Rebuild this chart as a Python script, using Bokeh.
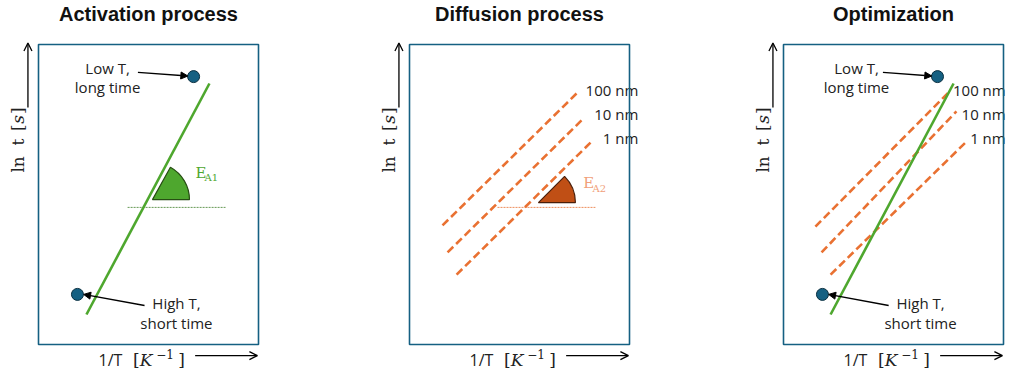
import numpy as np
from bokeh.plotting import figure
from bokeh.layouts import row
from bokeh.models import Range1d, Arrow, NormalHead, OpenHead
from bokeh.core.properties import value
from bokeh.embed import file_html
from bokeh.resources import INLINE

# ---------------- data (schematic units: x = 1/T, y = ln t, box = 0..10) -------------
titles = ["Activation process", "Diffusion process", "Optimization"]
sizes = ["100 nm", "10 nm", "1 nm"]
pt_labels = [["Low T,", "long time"], ["High T,", "short time"]]

act_x = [2.18, 7.77]
act_y = [1.00, 8.70]
act_pts_x = [7.05, 1.77]
act_pts_y = [8.93, 1.67]

diff_x0 = [1.50, 1.73, 2.14]
diff_y0 = [3.97, 3.07, 2.33]
diff_x1 = [7.64, 7.86, 8.23]
diff_y1 = [8.40, 7.50, 6.73]

opt_act_x = [2.14, 7.73]
opt_act_y = [1.00, 8.70]
opt_pts_x = [7.00, 1.77]
opt_pts_y = [8.93, 1.67]
opt_x0 = [1.45, 1.73, 2.14]
opt_y0 = [3.93, 3.07, 2.33]
opt_x1 = [7.50, 7.86, 8.27]
opt_y1 = [8.40, 7.77, 6.73]

ea1_angle = 61
ea2_angle = 45

# ---------------- style ----------------
GREEN = "#4EA72E"
ORANGE = "#E97132"
BLUE = "#156082"
INK = "#222222"
SANS = value("Open Sans")
SERIF = value("DejaVu Serif")
TITLE_FONT = value("Liberation Sans")

H = 371
BOX_TOP, BOX_BOTTOM = 44, 344
XS, YS = 22.0, 30.0


def txt(p, x, y, s, font=SANS, size="15px", color=INK, align="left", style="normal", angle=0.0):
    p.text(x=[x], y=[y], text=[s], text_align=align, text_baseline="middle", angle=angle,
           text_font=font, text_font_size=size, text_color=color, text_font_style=style)


def make_fig(L, W, bl, title):
    p = figure(width=W, height=H, output_backend="svg", toolbar_location=None,
               x_range=Range1d((L - bl) / XS, (L + W - bl) / XS),
               y_range=Range1d((BOX_BOTTOM - H) / YS, BOX_BOTTOM / YS),
               min_border=0, title=None, x_axis_location=None, y_axis_location=None)
    p.grid.visible = False
    p.outline_line_color = None
    p.background_fill_color = "white"
    p.border_fill_color = "white"
    # title
    txt(p, 5, 11.03, title, font=TITLE_FONT, size="20px", color="#111111",
        align="center", style="bold")
    # y label: ln t  [s]
    a = np.pi / 2
    txt(p, -0.93, 5.73, "ln", font=SERIF, size="17px", angle=a)
    txt(p, -0.93, 6.63, "t", font=SERIF, size="17px", angle=a)
    txt(p, -0.93, 7.12, "[", font=SERIF, size="17px", angle=a)
    txt(p, -0.93, 7.36, "s", font=SERIF, size="17px", style="italic", angle=a)
    txt(p, -0.93, 7.68, "]", font=SERIF, size="17px", angle=a)
    p.add_layout(Arrow(end=OpenHead(size=8, line_width=1.3, line_color="black"),
                       x_start=-0.48, y_start=7.9, x_end=-0.48, y_end=10.05,
                       line_width=1.3, line_color="black"))
    # x label: 1/T  [K^-1]
    ly = -0.5
    txt(p, 2.73, ly, "1/T", size="16px")
    txt(p, 4.3, ly, "[", font=SERIF, size="17px")
    txt(p, 4.6, ly, "K", font=SERIF, size="17px", style="italic")
    txt(p, 5.35, ly + 0.2, "\u22121", font=SERIF, size="12px")
    txt(p, 6.35, ly, "]", font=SERIF, size="17px")
    p.add_layout(Arrow(end=OpenHead(size=8, line_width=1.3, line_color="black"),
                       x_start=7.12, y_start=-0.37, x_end=9.95, y_end=-0.37,
                       line_width=1.3, line_color="black"))
    return p


def add_box(p):
    p.quad(left=[0], right=[10], bottom=[0], top=[10], fill_color=None,
           line_color=BLUE, line_width=1.6)


def add_points(p, px, py, low_cx, high_cx):
    p.scatter(px, py, size=12, fill_color=BLUE, line_color="#0B3041", line_width=1)
    head = NormalHead(size=7, fill_color="black", line_color="black")
    p.add_layout(Arrow(end=head, x_start=4.52, y_start=9.07, x_end=px[0] - 0.26, y_end=py[0] + 0.02,
                       line_width=1.3, line_color="black"))
    head2 = NormalHead(size=7, fill_color="black", line_color="black")
    p.add_layout(Arrow(end=head2, x_start=high_cx - 1.45, y_start=1.3, x_end=px[1] + 0.28,
                       y_end=py[1], line_width=1.3, line_color="black"))
    p.text(x=[low_cx, low_cx], y=[9.23, 8.57], text=pt_labels[0], text_align="center",
           text_baseline="middle", text_font=SANS, text_font_size="15px", text_color=INK)
    p.text(x=[high_cx, high_cx], y=[1.38, 0.72], text=pt_labels[1], text_align="center",
           text_baseline="middle", text_font=SANS, text_font_size="15px", text_color=INK)


def add_dashed(p, x0, y0, x1, y1, label_right, label_y):
    p.segment(x0=x0, y0=y0, x1=x1, y1=y1, line_color=ORANGE, line_width=2.6, line_dash="8 4")
    p.text(x=[label_right] * 3, y=label_y, text=sizes, text_align="right", text_baseline="middle",
           text_font=SANS, text_font_size="15px", text_color=INK)


# ---------------- panel 1 ----------------
p1 = make_fig(0, 348, 38, titles[0])
p1.segment(x0=[4.05], y0=[4.57], x1=[8.5], y1=[4.57], line_color="#3F7F2A",
           line_width=0.8, line_dash="2 1")
p1.line(act_x, act_y, line_color=GREEN, line_width=2.6)
p1.wedge(x=[5.18], y=[4.83], radius=37, radius_units="screen", start_angle=0,
         end_angle=np.radians(ea1_angle), fill_color=GREEN, line_color="#274E13", line_width=1.2)
txt(p1, 7.14, 5.73, "E", font=SERIF, size="15px", color=GREEN)
txt(p1, 7.55, 5.57, "A1", font=SERIF, size="10px", color=GREEN)
add_points(p1, act_pts_x, act_pts_y, 3.14, 6.27)
add_box(p1)

# ---------------- panel 2 ----------------
p2 = make_fig(348, 345, 409, titles[1])
p2.segment(x0=[4.0], y0=[4.57], x1=[8.45], y1=[4.57], line_color=ORANGE,
           line_width=0.8, line_dash="2 1")
add_dashed(p2, diff_x0, diff_y0, diff_x1, diff_y1, 10.4, [8.5, 7.67, 6.9])
p2.wedge(x=[5.86], y=[4.73], radius=37, radius_units="screen", start_angle=0,
         end_angle=np.radians(ea2_angle), fill_color="#C04F15", line_color="#4A1F0A", line_width=1.2)
txt(p2, 7.9, 5.37, "E", font=SERIF, size="15px", color="#F1A07A")
txt(p2, 8.32, 5.21, "A2", font=SERIF, size="10px", color="#F1A07A")
add_box(p2)

# ---------------- panel 3 ----------------
p3 = make_fig(693, 315, 783, titles[2])
add_dashed(p3, opt_x0, opt_y0, opt_x1, opt_y1, 10.1, [8.47, 7.67, 6.9])
p3.line(opt_act_x, opt_act_y, line_color=GREEN, line_width=2.6)
add_points(p3, opt_pts_x, opt_pts_y, 3.32, 6.23)
add_box(p3)

layout = row(p1, p2, p3)
open("out.html", "w").write(file_html(layout, INLINE))
